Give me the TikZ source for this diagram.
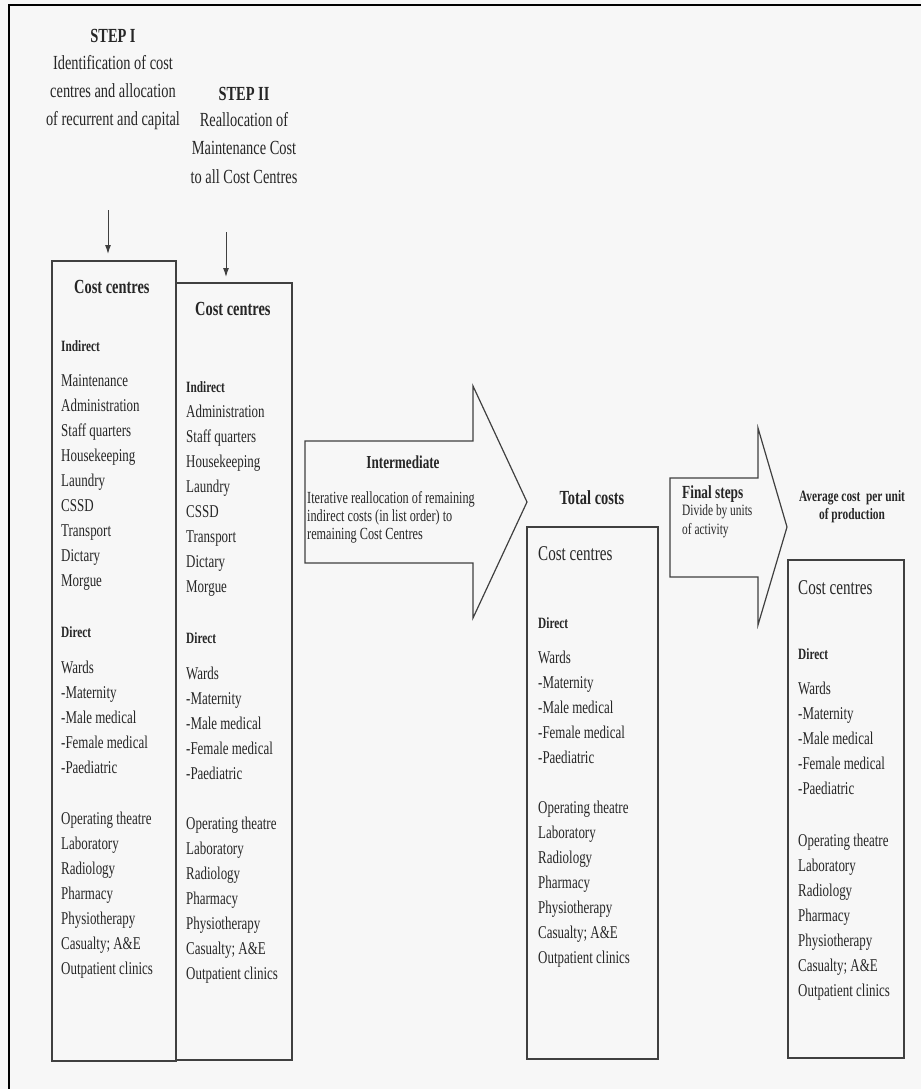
\documentclass[tikz,border=0pt]{standalone}
\usepackage{fontspec}
\setmainfont{Liberation Serif}[FakeStretch=0.72]
\usetikzlibrary{arrows.meta}
\definecolor{ink}{HTML}{262626}
\definecolor{linec}{HTML}{404040}
\definecolor{paper}{HTML}{F7F7F7}
\tikzset{
  item/.style={anchor=base west, inner sep=0pt, text=ink, font=\fontsize{18}{20}\selectfont},
  sub/.style={anchor=base west, inner sep=0pt, text=ink, font=\bfseries\fontsize{15.7}{18}\selectfont},
  head/.style={anchor=base west, inner sep=0pt, text=ink, font=\bfseries\fontsize{20}{22}\selectfont},
  headr/.style={anchor=base west, inner sep=0pt, text=ink, font=\fontsize{21}{23}\selectfont},
  steptxt/.style={anchor=base, inner sep=0pt, text=ink, font=\fontsize{20}{22}\selectfont},
  small/.style={anchor=base west, inner sep=0pt, text=ink, font=\fontsize{17}{18}\selectfont},
  box/.style={draw=linec, line width=1.3pt, fill=none, inner sep=0pt},
  blockarrow/.style={draw=linec, line width=1.2pt},
  arr/.style={draw=linec, line width=1pt, -{Latex[length=9pt,width=6pt]}}
}
\begin{document}
\begin{tikzpicture}[x=1pt,y=-1pt]
\path[fill=paper] (0,0) rectangle (921,1089);
\useasboundingbox (0,0) rectangle (921,1089);
% outer frame (left and top)
\draw[black, line width=2pt] (9,1089) -- (9,5) -- (921,5);

% STEP I text
\node[steptxt, font=\bfseries\fontsize{20}{22}\selectfont] (s1a) at (113,43) {STEP I};
\node[steptxt] (s1b) at (113,70) {Identification of cost};
\node[steptxt] (s1c) at (113,98) {centres and allocation};
\node[steptxt] (s1d) at (113,125) {of recurrent and capital};
% STEP II text
\node[steptxt, font=\bfseries\fontsize{20}{22}\selectfont] (s2a) at (244,101) {STEP II};
\node[steptxt] (s2b) at (244,127) {Reallocation of};
\node[steptxt] (s2c) at (244,154) {Maintenance Cost};
\node[steptxt] (s2d) at (244,183) {to all Cost Centres};

% boxes
\node[box, minimum width=124pt, minimum height=800pt] (b1) at (114,661) {};
\node[box, minimum width=116pt, minimum height=777pt] (b2) at (234,671.5) {};
\node[box, minimum width=131pt, minimum height=532pt] (b3) at (592.5,793) {};
\node[box, minimum width=116pt, minimum height=498pt] (b4) at (846,809) {};

% step arrows
\coordinate (a1s) at (108,210);
\coordinate (a1e) at (108,254);
\coordinate (a2s) at (226,232);
\coordinate (a2e) at (226,277);
\draw[arr] (a1s) -- (a1e);
\draw[arr] (a2s) -- (a2e);

% Box 1 contents
\node[head] (b1h) at (74,293) {Cost centres};
\node[sub] (b1i) at (61,351) {Indirect};
\foreach \y/\t in {386/Maintenance,411/Administration,436/Staff quarters,461/Housekeeping,486/Laundry,511/CSSD,536/Transport,561/Dictary,586/Morgue}
  \node[item] (b1x\y) at (61,\y) {\t};
\node[sub] (b1d) at (61,637) {Direct};
\foreach \y/\t in {673/Wards,698/-Maternity,723/-Male medical,748/-Female medical,773/-Paediatric,824/Operating theatre,849/Laboratory,874/Radiology,899/Pharmacy,924/Physiotherapy,949/Casualty; A\&E,974/Outpatient clinics}
  \node[item] (b1y\y) at (61,\y) {\t};

% Box 2 contents
\node[head] (b2h) at (195,315) {Cost centres};
\node[sub] (b2i) at (186,392) {Indirect};
\foreach \y/\t in {417/Administration,442/Staff quarters,467/Housekeeping,492/Laundry,517/CSSD,542/Transport,567/Dictary,592/Morgue}
  \node[item] (b2x\y) at (186,\y) {\t};
\node[sub] (b2d) at (186,643) {Direct};
\foreach \y/\t in {679/Wards,704/-Maternity,729/-Male medical,754/-Female medical,779/-Paediatric,829/Operating theatre,854/Laboratory,879/Radiology,904/Pharmacy,929/Physiotherapy,954/Casualty; A\&E,979/Outpatient clinics}
  \node[item] (b2y\y) at (186,\y) {\t};

% Intermediate block arrow
\draw[blockarrow] (305,441) -- (473,441) -- (473,386) -- (527,502) -- (473,618) -- (473,563) -- (305,563) -- cycle;
\node[anchor=base, inner sep=0pt, text=ink, font=\bfseries\fontsize{18.3}{20}\selectfont] (imt) at (403,468) {Intermediate};
\node[small] (im1) at (307,503) {Iterative reallocation of remaining};
\node[small] (im2) at (307,521) {indirect costs (in list order) to};
\node[small] (im3) at (307,539) {remaining Cost Centres};

% Total costs
\node[anchor=base, inner sep=0pt, text=ink, font=\bfseries\fontsize{20}{22}\selectfont] (tc) at (592,504) {Total costs};
\node[headr] (b3h) at (538,560) {Cost centres};
\node[sub] (b3d) at (538,628) {Direct};
\foreach \y/\t in {663/Wards,688/-Maternity,713/-Male medical,738/-Female medical,763/-Paediatric,813/Operating theatre,838/Laboratory,863/Radiology,888/Pharmacy,913/Physiotherapy,938/Casualty; A\&E,963/Outpatient clinics}
  \node[item] (b3y\y) at (538,\y) {\t};

% Final steps block arrow
\draw[blockarrow] (670,478) -- (758,478) -- (758,428) -- (787,527) -- (758,625) -- (758,577) -- (670,577) -- cycle;
\node[anchor=base west, inner sep=0pt, text=ink, font=\bfseries\fontsize{18.5}{20}\selectfont] (fs1) at (682,498) {Final steps};
\node[small, font=\fontsize{15.8}{17}\selectfont] (fs2) at (682,515) {Divide by units};
\node[small, font=\fontsize{15.8}{17}\selectfont] (fs3) at (682,534) {of activity};

% Average cost
\node[anchor=base, inner sep=0pt, text=ink, font=\bfseries\fontsize{15.8}{17}\selectfont] (av1) at (852,501) {Average cost~~per unit};
\node[anchor=base, inner sep=0pt, text=ink, font=\bfseries\fontsize{15.8}{17}\selectfont] (av2) at (852,519) {of production};
\node[headr] (b4h) at (798,594) {Cost centres};
\node[sub] (b4d) at (798,659) {Direct};
\foreach \y/\t in {694/Wards,719/-Maternity,744/-Male medical,769/-Female medical,794/-Paediatric,846/Operating theatre,871/Laboratory,896/Radiology,921/Pharmacy,946/Physiotherapy,971/Casualty; A\&E,996/Outpatient clinics}
  \node[item] (b4y\y) at (798,\y) {\t};
\end{tikzpicture}
\end{document}
